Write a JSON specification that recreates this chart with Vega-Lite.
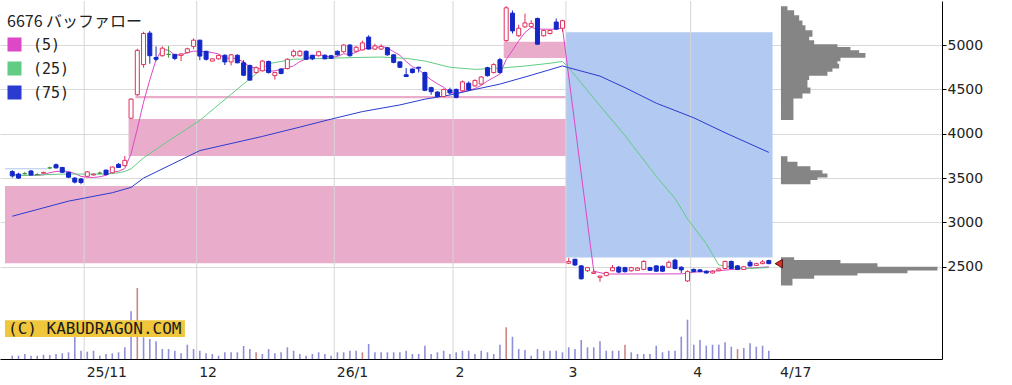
{
"$schema": "https://vega.github.io/schema/vega-lite/v6.json",
"width": 942, "height": 358, "padding": 0, "autosize": {"type": "pad"},
"config": {"view": {"stroke": null}, "axis": {"labelFont": "DejaVu Sans", "labelFontSize": 14, "labelColor": "#222"}},
"datasets": {
"candles": [
{"i":0,"o":3573,"h":3590,"l":3505,"c":3525},{"i":1,"o":3545,"h":3560,"l":3490,"c":3500},{"i":2,"o":3550,"h":3570,"l":3540,"c":3550},{"i":3,"o":3580,"h":3590,"l":3530,"c":3535},{"i":4,"o":3540,"h":3555,"l":3535,"c":3540},{"i":5,"o":3555,"h":3570,"l":3550,"c":3565},{"i":6,"o":3615,"h":3630,"l":3600,"c":3615},{"i":7,"o":3650,"h":3665,"l":3610,"c":3615},{"i":8,"o":3620,"h":3625,"l":3560,"c":3565},{"i":9,"o":3565,"h":3570,"l":3500,"c":3510},
{"i":10,"o":3500,"h":3510,"l":3440,"c":3455},{"i":11,"o":3490,"h":3500,"l":3430,"c":3450},{"i":12,"o":3520,"h":3580,"l":3510,"c":3570},{"i":13,"o":3535,"h":3550,"l":3530,"c":3545},{"i":14,"o":3555,"h":3575,"l":3545,"c":3555},{"i":15,"o":3590,"h":3595,"l":3530,"c":3540},{"i":16,"o":3560,"h":3630,"l":3555,"c":3625},{"i":17,"o":3655,"h":3670,"l":3615,"c":3620},{"i":18,"o":3640,"h":3750,"l":3630,"c":3700},{"i":19,"o":4175,"h":4400,"l":4165,"c":4390},
{"i":20,"o":4440,"h":4960,"l":4426,"c":4940},{"i":21,"o":4780,"h":5150,"l":4745,"c":5130},{"i":22,"o":5135,"h":5160,"l":4790,"c":4880},{"i":23,"o":4860,"h":4985,"l":4820,"c":4840},{"i":24,"o":4880,"h":4985,"l":4870,"c":4965},{"i":25,"o":4895,"h":4989,"l":4857,"c":4895},{"i":26,"o":4895,"h":4900,"l":4830,"c":4850},{"i":27,"o":4884,"h":4905,"l":4820,"c":4900},{"i":28,"o":4915,"h":4970,"l":4905,"c":4958},{"i":29,"o":4985,"h":5075,"l":4955,"c":5055},
{"i":30,"o":5055,"h":5060,"l":4830,"c":4876},{"i":31,"o":4930,"h":4935,"l":4825,"c":4840},{"i":32,"o":4820,"h":4850,"l":4815,"c":4845},{"i":33,"o":4845,"h":4890,"l":4835,"c":4884},{"i":34,"o":4885,"h":4895,"l":4775,"c":4810},{"i":35,"o":4810,"h":4900,"l":4770,"c":4890},{"i":36,"o":4885,"h":4895,"l":4795,"c":4800},{"i":37,"o":4800,"h":4830,"l":4650,"c":4660},{"i":38,"o":4770,"h":4780,"l":4600,"c":4605},{"i":39,"o":4690,"h":4760,"l":4680,"c":4745},
{"i":40,"o":4710,"h":4830,"l":4700,"c":4820},{"i":41,"o":4815,"h":4825,"l":4680,"c":4690},{"i":42,"o":4655,"h":4700,"l":4610,"c":4690},{"i":43,"o":4730,"h":4740,"l":4670,"c":4680},{"i":44,"o":4735,"h":4850,"l":4725,"c":4840},{"i":45,"o":4880,"h":4950,"l":4860,"c":4930},{"i":46,"o":4880,"h":4945,"l":4870,"c":4930},{"i":47,"o":4930,"h":4940,"l":4835,"c":4840},{"i":48,"o":4885,"h":4890,"l":4830,"c":4845},{"i":49,"o":4880,"h":4935,"l":4870,"c":4925},
{"i":50,"o":4885,"h":4895,"l":4840,"c":4845},{"i":51,"o":4880,"h":4890,"l":4845,"c":4850},{"i":52,"o":4930,"h":4940,"l":4880,"c":4890},{"i":53,"o":4925,"h":5010,"l":4915,"c":5000},{"i":54,"o":5000,"h":5010,"l":4870,"c":4880},{"i":55,"o":4930,"h":4990,"l":4925,"c":4975},{"i":56,"o":4945,"h":5050,"l":4940,"c":5025},{"i":57,"o":5090,"h":5110,"l":4950,"c":4955},{"i":58,"o":4955,"h":5015,"l":4945,"c":4990},{"i":59,"o":4955,"h":5010,"l":4945,"c":4985},
{"i":60,"o":4970,"h":4980,"l":4880,"c":4890},{"i":61,"o":4890,"h":4900,"l":4795,"c":4805},{"i":62,"o":4810,"h":4820,"l":4740,"c":4750},{"i":63,"o":4665,"h":4740,"l":4640,"c":4645},{"i":64,"o":4730,"h":4735,"l":4680,"c":4690},{"i":65,"o":4750,"h":4755,"l":4690,"c":4740},{"i":66,"o":4690,"h":4700,"l":4480,"c":4490},{"i":67,"o":4520,"h":4530,"l":4440,"c":4475},{"i":68,"o":4470,"h":4480,"l":4410,"c":4420},{"i":69,"o":4420,"h":4510,"l":4410,"c":4500},
{"i":70,"o":4495,"h":4520,"l":4440,"c":4460},{"i":71,"o":4500,"h":4510,"l":4400,"c":4410},{"i":72,"o":4485,"h":4600,"l":4475,"c":4585},{"i":73,"o":4570,"h":4590,"l":4485,"c":4495},{"i":74,"o":4540,"h":4615,"l":4530,"c":4600},{"i":75,"o":4560,"h":4650,"l":4550,"c":4640},{"i":76,"o":4745,"h":4755,"l":4645,"c":4655},{"i":77,"o":4690,"h":4795,"l":4680,"c":4780},{"i":78,"o":4835,"h":4855,"l":4680,"c":4690},{"i":79,"o":5050,"h":5440,"l":5035,"c":5420},
{"i":80,"o":5360,"h":5390,"l":5130,"c":5160},{"i":81,"o":5105,"h":5230,"l":5090,"c":5190},{"i":82,"o":5205,"h":5355,"l":5195,"c":5250},{"i":83,"o":5210,"h":5280,"l":5200,"c":5245},{"i":84,"o":5300,"h":5310,"l":5000,"c":5010},{"i":85,"o":5105,"h":5175,"l":5095,"c":5165},{"i":86,"o":5130,"h":5170,"l":5120,"c":5165},{"i":87,"o":5260,"h":5300,"l":5170,"c":5180},{"i":88,"o":5190,"h":5285,"l":5150,"c":5275},{"i":89,"o":2540,"h":2600,"l":2530,"c":2560},
{"i":90,"o":2585,"h":2590,"l":2510,"c":2520},{"i":91,"o":2510,"h":2520,"l":2355,"c":2365},{"i":92,"o":2455,"h":2500,"l":2440,"c":2490},{"i":93,"o":2425,"h":2470,"l":2420,"c":2440},{"i":94,"o":2380,"h":2400,"l":2330,"c":2395},{"i":95,"o":2400,"h":2445,"l":2395,"c":2435},{"i":96,"o":2455,"h":2520,"l":2450,"c":2490},{"i":97,"o":2495,"h":2510,"l":2430,"c":2440},{"i":98,"o":2490,"h":2500,"l":2435,"c":2445},{"i":99,"o":2455,"h":2500,"l":2445,"c":2490},
{"i":100,"o":2460,"h":2495,"l":2455,"c":2485},{"i":101,"o":2470,"h":2575,"l":2460,"c":2560},{"i":102,"o":2490,"h":2500,"l":2455,"c":2460},{"i":103,"o":2510,"h":2515,"l":2445,"c":2450},{"i":104,"o":2505,"h":2515,"l":2440,"c":2450},{"i":105,"o":2495,"h":2570,"l":2490,"c":2550},{"i":106,"o":2575,"h":2590,"l":2470,"c":2480},{"i":107,"o":2495,"h":2505,"l":2430,"c":2465},{"i":108,"o":2340,"h":2460,"l":2330,"c":2445},{"i":109,"o":2470,"h":2480,"l":2440,"c":2445},
{"i":110,"o":2465,"h":2475,"l":2440,"c":2445},{"i":111,"o":2450,"h":2460,"l":2425,"c":2430},{"i":112,"o":2430,"h":2460,"l":2425,"c":2450},{"i":113,"o":2455,"h":2480,"l":2450,"c":2475},{"i":114,"o":2480,"h":2570,"l":2470,"c":2560},{"i":115,"o":2560,"h":2570,"l":2475,"c":2480},{"i":116,"o":2510,"h":2520,"l":2465,"c":2470},{"i":117,"o":2470,"h":2510,"l":2465,"c":2500},{"i":118,"o":2550,"h":2575,"l":2500,"c":2510},{"i":119,"o":2515,"h":2545,"l":2510,"c":2535},
{"i":120,"o":2535,"h":2575,"l":2530,"c":2555},{"i":121,"o":2570,"h":2580,"l":2530,"c":2535}
],
"ma": [
{"i":0,"s":"(5)","v":3545},{"i":1,"s":"(5)","v":3535},{"i":2,"s":"(5)","v":3530},{"i":3,"s":"(5)","v":3530},{"i":4,"s":"(5)","v":3530},{"i":5,"s":"(5)","v":3538},{"i":6,"s":"(5)","v":3561},{"i":7,"s":"(5)","v":3574},{"i":8,"s":"(5)","v":3580},{"i":9,"s":"(5)","v":3574},{"i":10,"s":"(5)","v":3552},{"i":11,"s":"(5)","v":3519},{"i":12,"s":"(5)","v":3510},{"i":13,"s":"(5)","v":3507},{"i":14,"s":"(5)","v":3515},{"i":15,"s":"(5)","v":3532},{"i":16,"s":"(5)","v":3567},{"i":17,"s":"(5)","v":3577},{"i":18,"s":"(5)","v":3608},{"i":19,"s":"(5)","v":3775},{"i":20,"s":"(5)","v":4055},{"i":21,"s":"(5)","v":4356},{"i":22,"s":"(5)","v":4608},{"i":23,"s":"(5)","v":4836},{"i":24,"s":"(5)","v":4951},{"i":25,"s":"(5)","v":4942},{"i":26,"s":"(5)","v":4886},{"i":27,"s":"(5)","v":4890},{"i":28,"s":"(5)","v":4914},{"i":29,"s":"(5)","v":4932},{"i":30,"s":"(5)","v":4928},{"i":31,"s":"(5)","v":4926},{"i":32,"s":"(5)","v":4915},{"i":33,"s":"(5)","v":4900},{"i":34,"s":"(5)","v":4851},{"i":35,"s":"(5)","v":4854},{"i":36,"s":"(5)","v":4846},{"i":37,"s":"(5)","v":4809},{"i":38,"s":"(5)","v":4753},{"i":39,"s":"(5)","v":4740},{"i":40,"s":"(5)","v":4726},{"i":41,"s":"(5)","v":4704},{"i":42,"s":"(5)","v":4710},{"i":43,"s":"(5)","v":4725},{"i":44,"s":"(5)","v":4744},{"i":45,"s":"(5)","v":4766},{"i":46,"s":"(5)","v":4814},{"i":47,"s":"(5)","v":4844},{"i":48,"s":"(5)","v":4877},{"i":49,"s":"(5)","v":4894},{"i":50,"s":"(5)","v":4877},{"i":51,"s":"(5)","v":4861},{"i":52,"s":"(5)","v":4871},{"i":53,"s":"(5)","v":4902},{"i":54,"s":"(5)","v":4893},{"i":55,"s":"(5)","v":4919},{"i":56,"s":"(5)","v":4954},{"i":57,"s":"(5)","v":4967},{"i":58,"s":"(5)","v":4965},{"i":59,"s":"(5)","v":4986},{"i":60,"s":"(5)","v":4969},{"i":61,"s":"(5)","v":4925},{"i":62,"s":"(5)","v":4884},{"i":63,"s":"(5)","v":4815},{"i":64,"s":"(5)","v":4756},{"i":65,"s":"(5)","v":4726},{"i":66,"s":"(5)","v":4663},{"i":67,"s":"(5)","v":4608},{"i":68,"s":"(5)","v":4563},{"i":69,"s":"(5)","v":4525},{"i":70,"s":"(5)","v":4469},{"i":71,"s":"(5)","v":4453},{"i":72,"s":"(5)","v":4475},{"i":73,"s":"(5)","v":4490},{"i":74,"s":"(5)","v":4510},{"i":75,"s":"(5)","v":4546},{"i":76,"s":"(5)","v":4595},{"i":77,"s":"(5)","v":4634},{"i":78,"s":"(5)","v":4673},{"i":79,"s":"(5)","v":4837},{"i":80,"s":"(5)","v":4941},{"i":81,"s":"(5)","v":5048},{"i":82,"s":"(5)","v":5142},{"i":83,"s":"(5)","v":5200},{"i":84,"s":"(5)","v":5180},{"i":85,"s":"(5)","v":5180},{"i":86,"s":"(5)","v":5178},{"i":87,"s":"(5)","v":5180},{"i":88,"s":"(5)","v":5195},{"i":93,"s":"(5)","v":2450},{"i":95,"s":"(5)","v":2418},{"i":107,"s":"(5)","v":2420},{"i":108,"s":"(5)","v":2428},{"i":109,"s":"(5)","v":2440},{"i":112,"s":"(5)","v":2450},{"i":116,"s":"(5)","v":2475},{"i":121,"s":"(5)","v":2500},
{"i":0,"s":"(25)","v":3525},{"i":8,"s":"(25)","v":3545},{"i":15,"s":"(25)","v":3545},{"i":17,"s":"(25)","v":3560},{"i":18,"s":"(25)","v":3575},{"i":19,"s":"(25)","v":3605},{"i":21,"s":"(25)","v":3728},{"i":25,"s":"(25)","v":3920},{"i":30,"s":"(25)","v":4150},{"i":35,"s":"(25)","v":4445},{"i":38,"s":"(25)","v":4620},{"i":41,"s":"(25)","v":4790},{"i":45,"s":"(25)","v":4840},{"i":50,"s":"(25)","v":4850},{"i":55,"s":"(25)","v":4860},{"i":59,"s":"(25)","v":4865},{"i":63,"s":"(25)","v":4850},{"i":66,"s":"(25)","v":4820},{"i":70,"s":"(25)","v":4750},{"i":74,"s":"(25)","v":4726},{"i":78,"s":"(25)","v":4740},{"i":82,"s":"(25)","v":4764},{"i":86,"s":"(25)","v":4795},{"i":88,"s":"(25)","v":4815},{"i":89,"s":"(25)","v":4745},{"i":93,"s":"(25)","v":4400},{"i":98,"s":"(25)","v":3980},{"i":103,"s":"(25)","v":3520},{"i":106,"s":"(25)","v":3270},{"i":108,"s":"(25)","v":3040},{"i":111,"s":"(25)","v":2760},{"i":113,"s":"(25)","v":2520},{"i":117,"s":"(25)","v":2480},{"i":121,"s":"(25)","v":2490},
{"i":0,"s":"(75)","v":3070},{"i":9,"s":"(75)","v":3240},{"i":16,"s":"(75)","v":3335},{"i":19,"s":"(75)","v":3395},{"i":21,"s":"(75)","v":3500},{"i":30,"s":"(75)","v":3810},{"i":35,"s":"(75)","v":3890},{"i":40,"s":"(75)","v":3970},{"i":46,"s":"(75)","v":4075},{"i":51,"s":"(75)","v":4165},{"i":56,"s":"(75)","v":4250},{"i":62,"s":"(75)","v":4325},{"i":66,"s":"(75)","v":4390},{"i":70,"s":"(75)","v":4437},{"i":74,"s":"(75)","v":4500},{"i":78,"s":"(75)","v":4560},{"i":83,"s":"(75)","v":4660},{"i":88,"s":"(75)","v":4765},{"i":89,"s":"(75)","v":4745},{"i":94,"s":"(75)","v":4650},{"i":98,"s":"(75)","v":4520},{"i":103,"s":"(75)","v":4345},{"i":109,"s":"(75)","v":4180},{"i":114,"s":"(75)","v":4012},{"i":121,"s":"(75)","v":3790}
],
"gaps": [
{"x1":-1.16,"x2":88.55,"lo":2540,"hi":3410,"k":"p"},
{"x1":18.6,"x2":88.55,"lo":3750,"hi":4165,"k":"p"},
{"x1":19.7,"x2":88.55,"lo":4400,"hi":4426,"k":"p"},
{"x1":78.6,"x2":88.55,"lo":4855,"hi":5037,"k":"p"},
{"x1":88.55,"x2":121.6,"lo":2605,"hi":5146,"k":"b"},
{"x1":-1.16,"x2":5.6,"lo":3600,"hi":3612,"k":"b"}
],
"months": [{"g":11.5},{"g":29.5},{"g":51.5},{"g":70.5},{"g":88.55},{"g":108.5}],
"last": [{"i":122.6,"p":2535}],
"vol": [
{"i":0,"v":33,"c":"b"},{"i":1,"v":33,"c":"b"},{"i":2,"v":50,"c":"b"},{"i":3,"v":33,"c":"b"},{"i":4,"v":33,"c":"b"},{"i":5,"v":43,"c":"b"},{"i":6,"v":40,"c":"b"},{"i":7,"v":50,"c":"b"},{"i":8,"v":57,"c":"b"},{"i":9,"v":67,"c":"b"},
{"i":10,"v":220,"c":"b"},{"i":11,"v":83,"c":"b"},{"i":12,"v":73,"c":"b"},{"i":13,"v":83,"c":"b"},{"i":14,"v":33,"c":"b"},{"i":15,"v":50,"c":"b"},{"i":16,"v":57,"c":"b"},{"i":17,"v":67,"c":"b"},{"i":18,"v":117,"c":"b"},{"i":19,"v":477,"c":"b"},
{"i":20,"v":710,"c":"r"},{"i":21,"v":217,"c":"b"},{"i":22,"v":200,"c":"b"},{"i":23,"v":177,"c":"b"},{"i":24,"v":100,"c":"b"},{"i":25,"v":100,"c":"b"},{"i":26,"v":83,"c":"b"},{"i":27,"v":57,"c":"b"},{"i":28,"v":143,"c":"b"},{"i":29,"v":100,"c":"b"},
{"i":30,"v":83,"c":"b"},{"i":31,"v":57,"c":"b"},{"i":32,"v":50,"c":"b"},{"i":33,"v":33,"c":"b"},{"i":34,"v":67,"c":"b"},{"i":35,"v":67,"c":"b"},{"i":36,"v":67,"c":"b"},{"i":37,"v":130,"c":"b"},{"i":38,"v":100,"c":"b"},{"i":39,"v":67,"c":"r"},
{"i":40,"v":50,"c":"b"},{"i":41,"v":100,"c":"b"},{"i":42,"v":57,"c":"b"},{"i":43,"v":67,"c":"b"},{"i":44,"v":117,"c":"b"},{"i":45,"v":83,"c":"b"},{"i":46,"v":50,"c":"b"},{"i":47,"v":33,"c":"b"},{"i":48,"v":50,"c":"b"},{"i":49,"v":67,"c":"b"},
{"i":50,"v":50,"c":"b"},{"i":51,"v":33,"c":"b"},{"i":52,"v":67,"c":"b"},{"i":53,"v":67,"c":"b"},{"i":54,"v":83,"c":"b"},{"i":55,"v":83,"c":"b"},{"i":56,"v":67,"c":"r"},{"i":57,"v":150,"c":"b"},{"i":58,"v":67,"c":"b"},{"i":59,"v":67,"c":"b"},
{"i":60,"v":67,"c":"b"},{"i":61,"v":67,"c":"b"},{"i":62,"v":67,"c":"b"},{"i":63,"v":83,"c":"b"},{"i":64,"v":50,"c":"b"},{"i":65,"v":50,"c":"b"},{"i":66,"v":133,"c":"b"},{"i":67,"v":50,"c":"b"},{"i":68,"v":67,"c":"b"},{"i":69,"v":83,"c":"b"},
{"i":70,"v":50,"c":"b"},{"i":71,"v":67,"c":"b"},{"i":72,"v":83,"c":"b"},{"i":73,"v":83,"c":"b"},{"i":74,"v":50,"c":"b"},{"i":75,"v":83,"c":"b"},{"i":76,"v":67,"c":"b"},{"i":77,"v":50,"c":"b"},{"i":78,"v":143,"c":"b"},{"i":79,"v":317,"c":"r"},
{"i":80,"v":223,"c":"b"},{"i":81,"v":100,"c":"b"},{"i":82,"v":90,"c":"b"},{"i":83,"v":33,"c":"b"},{"i":84,"v":100,"c":"b"},{"i":85,"v":83,"c":"b"},{"i":86,"v":83,"c":"b"},{"i":87,"v":83,"c":"b"},{"i":88,"v":67,"c":"b"},{"i":89,"v":117,"c":"b"},
{"i":90,"v":100,"c":"b"},{"i":91,"v":190,"c":"b"},{"i":92,"v":117,"c":"b"},{"i":93,"v":117,"c":"b"},{"i":94,"v":177,"c":"b"},{"i":95,"v":83,"c":"b"},{"i":96,"v":83,"c":"b"},{"i":97,"v":83,"c":"b"},{"i":98,"v":143,"c":"r"},{"i":99,"v":67,"c":"b"},
{"i":100,"v":50,"c":"b"},{"i":101,"v":50,"c":"b"},{"i":102,"v":50,"c":"b"},{"i":103,"v":133,"c":"b"},{"i":104,"v":67,"c":"b"},{"i":105,"v":83,"c":"b"},{"i":106,"v":83,"c":"b"},{"i":107,"v":223,"c":"b"},{"i":108,"v":393,"c":"b"},{"i":109,"v":143,"c":"b"},
{"i":110,"v":190,"c":"b"},{"i":111,"v":133,"c":"b"},{"i":112,"v":143,"c":"b"},{"i":113,"v":143,"c":"b"},{"i":114,"v":167,"c":"b"},{"i":115,"v":123,"c":"b"},{"i":116,"v":100,"c":"r"},{"i":117,"v":110,"c":"b"},{"i":118,"v":157,"c":"b"},{"i":119,"v":123,"c":"b"},
{"i":120,"v":133,"c":"b"},{"i":121,"v":83,"c":"b"}
],
"prof": [
{"lo":5383,"hi":5428,"v":50},{"lo":5327,"hi":5383,"v":117},{"lo":5270,"hi":5327,"v":167},{"lo":5214,"hi":5270,"v":200},{"lo":5158,"hi":5214,"v":230},{"lo":5101,"hi":5158,"v":300},{"lo":5045,"hi":5101,"v":267},{"lo":5000,"hi":5045,"v":317},{"lo":4970,"hi":5000,"v":550},{"lo":4932,"hi":4970,"v":680},{"lo":4902,"hi":4932,"v":767},{"lo":4865,"hi":4902,"v":830},{"lo":4827,"hi":4865,"v":580},{"lo":4782,"hi":4827,"v":550},{"lo":4745,"hi":4782,"v":567},{"lo":4707,"hi":4745,"v":500},{"lo":4662,"hi":4707,"v":450},{"lo":4614,"hi":4662,"v":267},{"lo":4512,"hi":4614,"v":250},{"lo":4463,"hi":4512,"v":280},{"lo":4407,"hi":4463,"v":200},{"lo":4163,"hi":4407,"v":110},
{"lo":3675,"hi":3739,"v":50},{"lo":3626,"hi":3675,"v":150},{"lo":3581,"hi":3626,"v":280},{"lo":3544,"hi":3581,"v":400},{"lo":3514,"hi":3544,"v":450},{"lo":3488,"hi":3514,"v":350},{"lo":3438,"hi":3488,"v":280},
{"lo":2568,"hi":2598,"v":117},{"lo":2531,"hi":2568,"v":580},{"lo":2493,"hi":2531,"v":950},{"lo":2467,"hi":2493,"v":1550},{"lo":2436,"hi":2467,"v":1250},{"lo":2410,"hi":2436,"v":750},{"lo":2373,"hi":2410,"v":317},{"lo":2298,"hi":2373,"v":100}
],
"mark": [{"x1":-0.37,"x2":28.1,"lo":1708,"hi":1896,"tx":0.11,"ty":1800,"t":"(C) KABUDRAGON.COM"}]
},
"resolve": {"scale": {"x": "independent", "y": "independent"}},
"layer": [
{
"data": {"name": "prof"},
"mark": {"type": "rect", "color": "#858585", "stroke": "#858585", "strokeWidth": 1.5, "strokeJoin": "miter"},
"encoding": {
"x": {"field": "v", "type": "quantitative", "scale": {"domain": [-7817, 1603], "nice": false, "zero": false}, "axis": null},
"x2": {"datum": 0},
"y": {"field": "lo", "type": "quantitative", "scale": {"domain": [1460, 5497], "nice": false, "zero": false}, "axis": null},
"y2": {"field": "hi"}
}
},
{
"layer": [
{
"data": {"name": "gaps"},
"mark": {"type": "rect"},
"encoding": {
"x": {"field": "x1", "type": "quantitative", "scale": {"domain": [-1.16, 147.9], "nice": false, "zero": false},
"axis": {"orient": "bottom", "title": null, "values": [11.5, 29.5, 51.5, 70.5, 88.55, 108.5, 122.4], "labelExpr": "datum.value == 11.5 ? '25/11' : datum.value == 29.5 ? '12' : datum.value == 51.5 ? '26/1' : datum.value == 70.5 ? '2' : datum.value == 88.55 ? '3' : datum.value == 108.5 ? '4' : '4/17'", "grid": false, "ticks": false, "domainColor": "#000", "labelAlign": "left", "labelFlush": false, "labelOverlap": false, "labelPadding": 6, "labelOffset": 2, "labelBaseline": "top"}},
"x2": {"field": "x2"},
"y": {"field": "lo", "type": "quantitative", "scale": {"domain": [1460, 5497], "nice": false, "zero": false},
"axis": {"orient": "right", "title": null, "format": "d", "values": [2500, 3000, 3500, 4000, 4500, 5000], "grid": true, "gridColor": "#d9d9d9", "domainColor": "#000", "tickColor": "#000", "tickSize": 4, "labelPadding": 1}},
"y2": {"field": "hi"},
"color": {"condition": {"test": "datum.k == 'b'", "value": "#b2c9f1"}, "value": "#eaaccb"}
}
},
{
"data": {"name": "months"},
"mark": {"type": "rule", "color": "#d6d6d6", "strokeWidth": 1},
"encoding": {"x": {"field": "g", "type": "quantitative"}}
},
{
"data": {"name": "ma"},
"mark": {"type": "line", "strokeWidth": 1},
"encoding": {
"x": {"field": "i", "type": "quantitative"},
"y": {"field": "v", "type": "quantitative"},
"color": {"field": "s", "type": "nominal", "scale": {"domain": ["(5)", "(25)", "(75)"], "range": ["#dc48c6", "#62cc84", "#2a3cd0"]},
"legend": {"title": "6676 バッファロー", "orient": "none", "legendX": 7, "legendY": 13, "padding": 0, "symbolType": "square", "symbolSize": 36, "symbolStrokeWidth": 8, "labelFont": "DejaVu Sans Mono", "labelFontSize": 15, "labelColor": "#222", "labelOffset": 11, "titleFont": "Noto Sans CJK JP", "titleFontSize": 16, "titleFontWeight": "normal", "titleColor": "#222", "titlePadding": 7, "rowPadding": 8, "clipHeight": 15}}
}
},
{
"data": {"name": "candles"},
"mark": {"type": "rule", "strokeWidth": 1},
"encoding": {
"x": {"field": "i", "type": "quantitative"},
"y": {"field": "l", "type": "quantitative"},
"y2": {"field": "h"},
"stroke": {"condition": [{"test": "datum.c > datum.o", "value": "#e0305c"}, {"test": "datum.c < datum.o", "value": "#1428c8"}], "value": "#3c9a3c"}
}
},
{
"data": {"name": "candles"},
"mark": {"type": "bar", "size": 4, "strokeWidth": 1},
"encoding": {
"x": {"field": "i", "type": "quantitative"},
"y": {"field": "o", "type": "quantitative"},
"y2": {"field": "c"},
"fill": {"condition": [{"test": "datum.c > datum.o", "value": "#ffffff"}, {"test": "datum.c < datum.o", "value": "#1428c8"}], "value": "#3c9a3c"},
"stroke": {"condition": [{"test": "datum.c > datum.o", "value": "#e0305c"}, {"test": "datum.c < datum.o", "value": "#1428c8"}], "value": "#3c9a3c"}
}
},
{
"data": {"name": "last"},
"mark": {"type": "point", "shape": "triangle-left", "filled": true, "size": 70, "fill": "#e03020", "stroke": "#501010", "strokeWidth": 1, "opacity": 1},
"encoding": {
"x": {"field": "i", "type": "quantitative"},
"y": {"field": "p", "type": "quantitative"}
}
}
]
},
{
"data": {"name": "vol"},
"mark": {"type": "bar", "size": 1.6},
"encoding": {
"x": {"field": "i", "type": "quantitative", "scale": {"domain": [-1.16, 147.9], "nice": false, "zero": false}, "axis": null},
"y": {"field": "v", "type": "quantitative", "scale": {"domain": [0, 3580], "nice": false}, "axis": null},
"color": {"condition": {"test": "datum.c == 'r'", "value": "#cf8484"}, "value": "#8f8fd8"}
}
},
{
"data": {"name": "mark"},
"layer": [
{
"mark": {"type": "rect", "color": "#f0c63c"},
"encoding": {
"x": {"field": "x1", "type": "quantitative", "scale": {"domain": [-1.16, 147.9], "nice": false, "zero": false}, "axis": null},
"x2": {"field": "x2"},
"y": {"field": "lo", "type": "quantitative", "scale": {"domain": [1460, 5497], "nice": false, "zero": false}, "axis": null},
"y2": {"field": "hi"}
}
},
{
"mark": {"type": "text", "font": "DejaVu Sans Mono", "fontSize": 16, "align": "left", "baseline": "middle", "color": "#1a1a1a"},
"encoding": {
"x": {"field": "tx", "type": "quantitative"},
"y": {"field": "ty", "type": "quantitative"},
"text": {"field": "t"}
}
}
]
}
]
}
